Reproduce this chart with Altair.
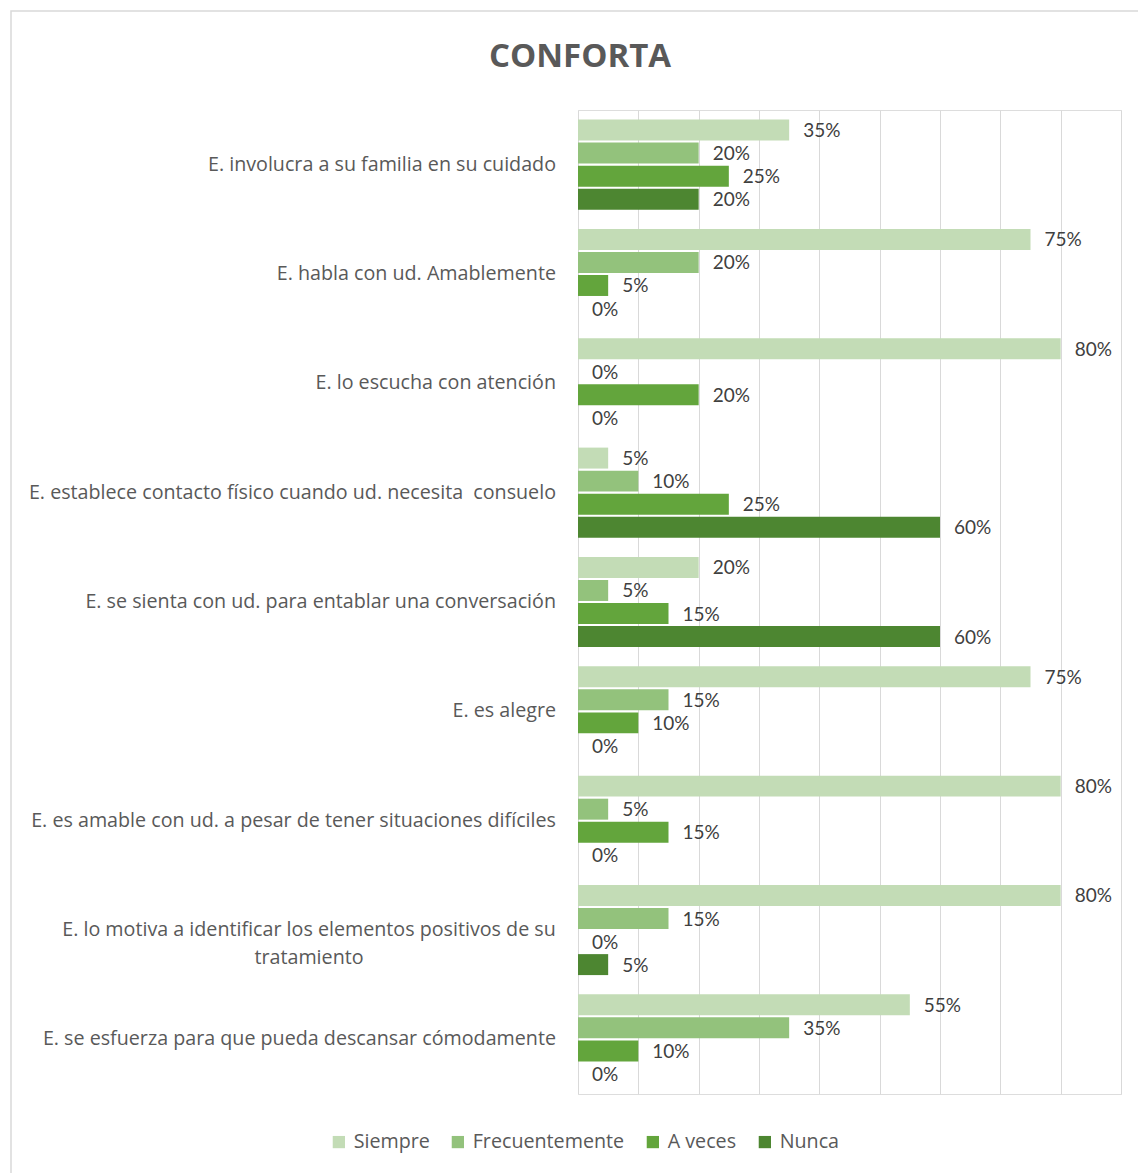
import altair as alt
import pandas as pd

title_text = "CONFORTA"
categories = [
    "E. involucra a su familia en su cuidado",
    "E. habla con ud. Amablemente",
    "E. lo escucha con atención",
    "E. establece contacto físico cuando ud. necesita  consuelo",
    "E. se sienta con ud. para entablar una conversación",
    "E. es alegre",
    "E. es amable con ud. a pesar de tener situaciones difíciles",
    "E. lo motiva a identificar los elementos positivos de su tratamiento",
    "E. se esfuerza para que pueda descansar cómodamente",
]
series = ["Siempre", "Frecuentemente", "A veces", "Nunca"]
siempre = [35, 75, 80, 5, 20, 75, 80, 80, 55]
frecuentemente = [20, 20, 0, 10, 5, 15, 5, 15, 35]
a_veces = [25, 5, 20, 25, 15, 10, 15, 0, 10]
nunca = [20, 0, 0, 60, 60, 0, 0, 5, 0]
colors = ["#c3dcb6", "#93c27c", "#63a53c", "#4d8631"]
wrapped_label = ["E. lo motiva a identificar los elementos positivos de su", "tratamiento"]

rows = []
for s, vals in zip(series, [siempre, frecuentemente, a_veces, nunca]):
    for c, v in zip(categories, vals):
        rows.append({"cat": c, "serie": s, "value": v / 100})
df = pd.DataFrame(rows)

lab_rows = []
for c in categories:
    if c == categories[7]:
        lab_rows.append({"cat": c, "txt": wrapped_label, "multi": 1})
    else:
        lab_rows.append({"cat": c, "txt": [c.replace("  ", "\u00a0 ")], "multi": 0})
labdf = pd.DataFrame(lab_rows)

yscale = alt.Scale(paddingInner=0.157, paddingOuter=0.078)
ycat = alt.Y("cat:N", sort=categories, scale=yscale, axis=None)
yoff = alt.YOffset("serie:N", sort=series,
                   scale=alt.Scale(paddingInner=0.09, paddingOuter=0.045))

base = alt.Chart(df)

bars = base.mark_bar().encode(
    x=alt.X(
        "value:Q",
        scale=alt.Scale(domain=[0, 0.9]),
        axis=alt.Axis(
            values=[i / 10 for i in range(10)],
            labels=False, ticks=False, domain=False, title=None,
            grid=True, gridColor="#d9d9d9", gridWidth=1,
        ),
    ),
    y=ycat,
    yOffset=yoff,
    color=alt.Color(
        "serie:N", sort=series,
        scale=alt.Scale(domain=series, range=colors),
        legend=alt.Legend(
            title=None, orient="none", direction="horizontal",
            legendX=-249, legendY=1022,
            symbolType="square", symbolSize=150, symbolStrokeWidth=0,
            labelFont="Open Sans", labelFontSize=19.7, labelColor="#595959",
            labelOffset=5, columnPadding=18,
        ),
    ),
)

text = base.mark_text(align="left", baseline="middle", dx=14, dy=1,
                      font="Lato", fontSize=19, color="#404040").encode(
    x="value:Q",
    y=ycat,
    yOffset=yoff,
    text=alt.Text("value:Q", format=".0%"),
)

catlab = alt.Chart(labdf).transform_filter("datum.multi == 0").mark_text(
    align="right", baseline="middle", font="Open Sans", fontSize=19.7, color="#595959"
).encode(y=ycat, x=alt.value(-22), text="txt")

catlab2 = alt.Chart(labdf).transform_filter("datum.multi == 1").mark_text(
    align="center", baseline="middle", font="Open Sans", fontSize=19.7, color="#595959",
    lineHeight=28,
).encode(y=ycat, x=alt.value(-269), text="txt")

title = alt.Chart(pd.DataFrame({"t": [title_text]})).mark_text(
    align="center", baseline="middle", font="Open Sans", fontSize=33,
    fontWeight="bold", color="#595959"
).encode(x=alt.value(2), y=alt.value(-53), text="t:N")

border = alt.Chart(pd.DataFrame({"a": [0]})).mark_rect(
    fill="transparent", stroke="#d9d9d9", strokeWidth=1.5
).encode(x=alt.value(-567), x2=alt.value(600), y=alt.value(-99), y2=alt.value(1100))

chart = alt.layer(border, bars, text, catlab, catlab2, title).properties(
    width=543, height=984,
    autosize=alt.AutoSizeParams(type="none"),
    padding={"left": 578, "top": 110, "right": 17, "bottom": 79},
).configure_view(stroke="transparent", strokeWidth=0).configure(background="white")

chart.save("out.html", embed_options={"renderer": "svg", "actions": False})
